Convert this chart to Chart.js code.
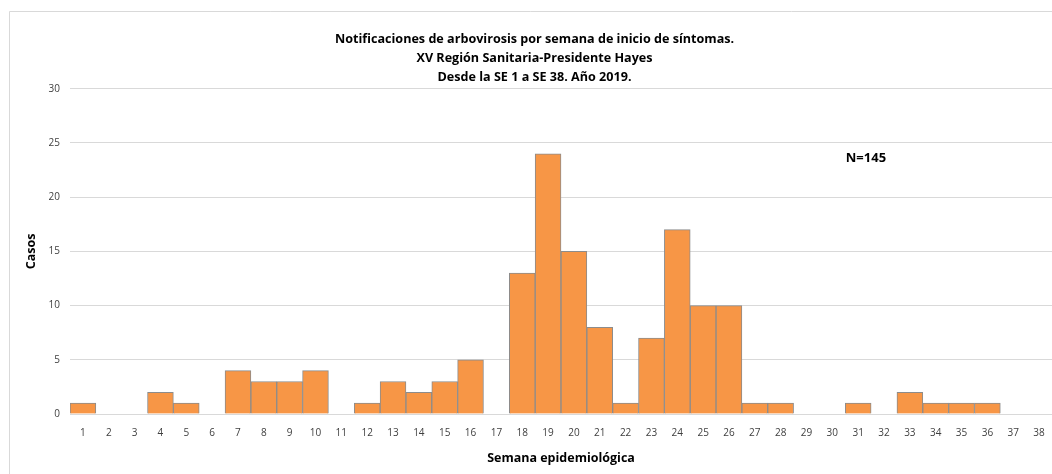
<!DOCTYPE html>
<html>
<head>
<meta charset="utf-8">
<script src="https://cdn.jsdelivr.net/npm/chart.js@4/dist/chart.umd.min.js"></script>
<style>
  html, body { margin: 0; padding: 0; background: #fff; }
  #wrap { width: 1052px; height: 474px; position: relative; }
</style>
</head>
<body>
<div id="wrap"><canvas id="chart"></canvas></div>
<script>
// semanas epidemiológicas
const semanas = ['1','2','3','4','5','6','7','8','9','10','11','12','13','14','15','16','17','18','19',
                 '20','21','22','23','24','25','26','27','28','29','30','31','32','33','34','35','36','37','38'];
// casos por semana
const casos = [1,0,0,2,1,0,4,3,3,4,0,1,3,2,3,5,0,13,24,15,8,1,7,17,10,10,1,1,0,0,1,0,2,1,1,1,0,0];

const titulo = [
  'Notificaciones de arbovirosis por semana de inicio de síntomas.',
  'XV Región Sanitaria-Presidente Hayes',
  'Desde la SE 1 a SE 38. Año 2019.'
];
const totalTexto = 'N=145';
const totalPos = { semana: 30.3, casos: 23.6 }; // donde va la etiqueta N

// marco del gráfico (borde gris arriba e izquierda) y etiqueta N
const extras = {
  id: 'extras',
  beforeDraw(chart) {
    const ctx = chart.ctx;
    ctx.save();
    ctx.fillStyle = '#fff';
    ctx.fillRect(0, 0, chart.width, chart.height);
    ctx.strokeStyle = '#d9d9d9';
    ctx.lineWidth = 1;
    ctx.beginPath();
    ctx.moveTo(9.5, chart.height);
    ctx.lineTo(9.5, 11.5);
    ctx.lineTo(chart.width, 11.5);
    ctx.stroke();
    ctx.restore();
  },
  afterDraw(chart) {
    const ctx = chart.ctx;
    const x = chart.scales.x.getPixelForValue(totalPos.semana);
    const y = chart.scales.y.getPixelForValue(totalPos.casos);
    ctx.save();
    ctx.font = 'bold 13px "Open Sans"';
    ctx.fillStyle = '#000';
    ctx.textAlign = 'center';
    ctx.textBaseline = 'middle';
    ctx.fillText(totalTexto, x, y);
    ctx.restore();
  }
};

new Chart(document.getElementById('chart'), {
  type: 'bar',
  data: {
    labels: semanas,
    datasets: [{
      label: 'Casos',
      data: casos,
      backgroundColor: '#f79646',
      borderColor: '#8c8c8c',
      borderWidth: 1,
      categoryPercentage: 1.0,
      barPercentage: 1.0
    }]
  },
  options: {
    responsive: true,
    maintainAspectRatio: false,
    animation: false,
    layout: { padding: { top: 30, left: 10, right: -7, bottom: 8 } },
    plugins: {
      legend: { display: false },
      tooltip: { enabled: false },
      title: {
        display: true,
        text: titulo,
        color: '#000',
        font: { family: '"Open Sans"', size: 12.6, weight: 'bold', lineHeight: 1.5 },
        padding: { top: 0, bottom: 2 }
      }
    },
    scales: {
      x: {
        grid: { display: false },
        border: { display: false },
        ticks: { color: '#404040', font: { family: '"Open Sans"', size: 10 }, padding: 5, maxRotation: 0, autoSkip: false },
        title: {
          display: true,
          text: 'Semana epidemiológica',
          color: '#000',
          font: { family: '"Open Sans"', size: 12.5, weight: 'bold' },
          padding: { top: 7, bottom: 0 }
        }
      },
      y: {
        min: 0,
        max: 30,
        ticks: { stepSize: 5, color: '#404040', font: { family: '"Open Sans"', size: 10 }, padding: 10 },
        grid: { color: '#d9d9d9', drawTicks: false },
        border: { display: false },
        title: {
          display: true,
          text: 'Casos',
          color: '#000',
          font: { family: '"Open Sans"', size: 12.5, weight: 'bold' },
          padding: { top: 14, bottom: 0 }
        },
        afterFit(scale) { scale.width = 60; }
      }
    }
  },
  plugins: [extras]
});
</script>
</body>
</html>
